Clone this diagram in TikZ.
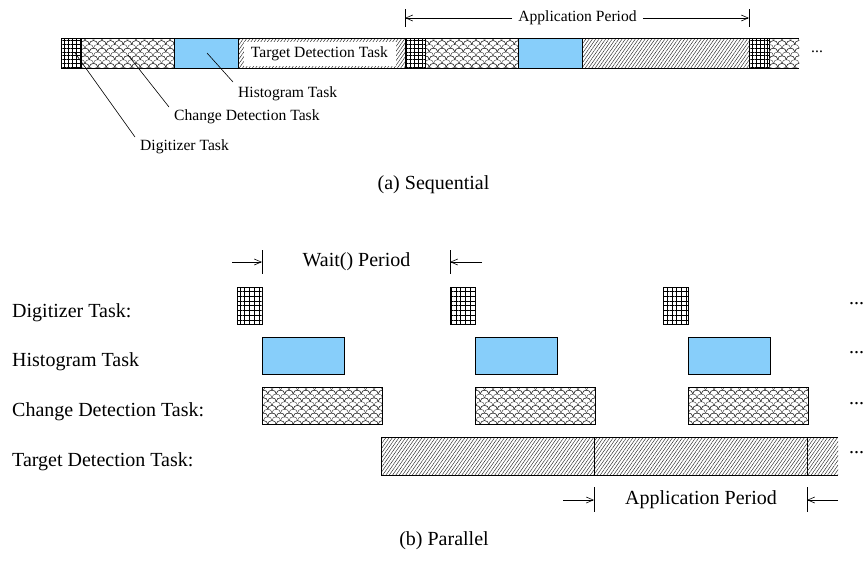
\documentclass[tikz,border=0pt]{standalone}
\usepackage{fontspec}
\setmainfont{Liberation Serif}
\usetikzlibrary{patterns,patterns.meta,arrows.meta}

\pgfdeclarepatternformonly{fishscale}{\pgfqpoint{-4.5pt}{-0.5pt}}{\pgfqpoint{13pt}{8.5pt}}{\pgfqpoint{8.5pt}{7.6pt}}{%
  \pgfsetlinewidth{0.4pt}%
  \pgfpathmoveto{\pgfqpoint{0pt}{0pt}}%
  \pgfpathcurveto{\pgfqpoint{0pt}{5.07pt}}{\pgfqpoint{8.5pt}{5.07pt}}{\pgfqpoint{8.5pt}{0pt}}%
  \pgfpathmoveto{\pgfqpoint{-4.25pt}{3.8pt}}%
  \pgfpathcurveto{\pgfqpoint{-4.25pt}{8.87pt}}{\pgfqpoint{4.25pt}{8.87pt}}{\pgfqpoint{4.25pt}{3.8pt}}%
  \pgfpathcurveto{\pgfqpoint{4.25pt}{8.87pt}}{\pgfqpoint{12.75pt}{8.87pt}}{\pgfqpoint{12.75pt}{3.8pt}}%
  \pgfusepath{stroke}%
}

\definecolor{histblue}{RGB}{135,206,250}

\tikzset{
  small/.style={font=\fontsize{15.6}{18}\selectfont, inner sep=0pt},
  big/.style={font=\fontsize{20}{24}\selectfont, inner sep=0pt},
  blk/.style={draw, line width=0.8pt, inner sep=0pt, anchor=north west},
  nodraw/.style={inner sep=0pt, anchor=north west},
  gridsmall/.style={pattern={Hatch[angle=0,distance=3.8pt,line width=0.6pt]}},
  gridbig/.style={pattern={Hatch[angle=0,distance=4.8pt,line width=0.8pt]}},
  scales/.style={pattern=fishscale, pattern color=black!80},
  hatch/.style={pattern={Lines[angle=55,distance=2.7pt,line width=0.45pt]}, pattern color=black!85},
  blue/.style={fill=histblue},
  topbar/.style={minimum height=30pt},
  row/.style={minimum height=37pt},
  tick/.style={line width=0.6pt},
  arr/.style={line width=0.6pt, -{Straight Barb[length=7pt,width=6pt]}},
  leader/.style={line width=0.6pt},
}

\begin{document}
\begin{tikzpicture}[x=1pt, y=-1pt]
\useasboundingbox (0,0) rectangle (866,565);

% ---------------- (a) Sequential ----------------
\node[blk, gridsmall, topbar, minimum width=20pt] (d1) at (61,38) {};
\node[blk, scales, topbar, minimum width=93pt] (c1) at (81,38) {};
\node[blk, blue, topbar, minimum width=64pt] (h1) at (174,38) {};
\node[blk, hatch, topbar, minimum width=167pt] (t1) at (238,38) {};
\node[blk, gridsmall, topbar, minimum width=20pt] (d2) at (405,38) {};
\node[blk, scales, topbar, minimum width=93pt] (c2) at (425,38) {};
\node[blk, blue, topbar, minimum width=64pt] (h2) at (518,38) {};
\node[blk, hatch, topbar, minimum width=167pt] (t2) at (582,38) {};
\node[blk, gridsmall, topbar, minimum width=20pt] (d3) at (749,38) {};
\node[nodraw, scales, topbar, minimum width=30pt] (c3) at (769,38) {};
\draw[line width=0.8pt] (c3.north west) -- (c3.north east);
\draw[line width=0.8pt] (c3.south west) -- (c3.south east);

\node[small, fill=white, minimum width=152pt, minimum height=24pt] (ttext) at (319.5,53.5) {Target Detection Task};
\node[small, anchor=west] (dotsA) at (811,52) {...};

% application period (top)
\coordinate (apL1) at (405,9);
\coordinate (apL2) at (405,27);
\coordinate (apR1) at (749,9);
\coordinate (apR2) at (749,27);
\draw[tick] (apL1) -- (apL2);
\draw[tick] (apR1) -- (apR2);
\node[small] (apTop) at (577.5,18) {Application Period};
\coordinate (apLa) at (405,18);
\coordinate (apRa) at (749,18);
\draw[arr] ([xshift=-6pt]apTop.west) -- (apLa);
\draw[arr] ([xshift=6pt]apTop.east) -- (apRa);

% labels with leaders
\node[small, anchor=west] (lh) at (238,93.5) {Histogram Task};
\node[small, anchor=west] (lc) at (174,117) {Change Detection Task};
\node[small, anchor=west] (ld) at (140,147) {Digitizer Task};
\coordinate (ph1) at (207,53);
\coordinate (ph2) at (233,82);
\coordinate (pc1) at (128,55);
\coordinate (pc2) at (169,107);
\coordinate (pd1) at (75,53);
\coordinate (pd2) at (135,137);
\draw[leader] (ph1) -- (ph2);
\draw[leader] (pc1) -- (pc2);
\draw[leader] (pd1) -- (pd2);

\node[big] (capA) at (433.5,185) {(a) Sequential};

% ---------------- (b) Parallel ----------------
\node[big, anchor=west] (rD) at (12,313) {Digitizer Task:};
\node[big, anchor=west] (rH) at (12,361.5) {Histogram Task};
\node[big, anchor=west] (rC) at (12,412) {Change Detection Task:};
\node[big, anchor=west] (rT) at (12,462) {Target Detection Task:};

\node[blk, gridbig, row, minimum width=25pt] (D1) at (237,287) {};
\node[blk, gridbig, row, minimum width=25pt] (D2) at (450,287) {};
\node[blk, gridbig, row, minimum width=25pt] (D3) at (663,287) {};

\node[blk, blue, row, minimum width=82pt] (H1) at (262,337) {};
\node[blk, blue, row, minimum width=82pt] (H2) at (475,337) {};
\node[blk, blue, row, minimum width=82pt] (H3) at (688,337) {};

\node[blk, scales, row, minimum width=120pt] (C1) at (262,387) {};
\node[blk, scales, row, minimum width=120pt] (C2) at (475,387) {};
\node[blk, scales, row, minimum width=120pt] (C3) at (688,387) {};

\node[blk, hatch, minimum height=38pt, minimum width=213pt] (T1) at (381,437) {};
\node[blk, hatch, minimum height=38pt, minimum width=213pt] (T2) at (594,437) {};
\node[nodraw, hatch, minimum height=38pt, minimum width=31pt] (T3) at (807,437) {};
\draw[line width=0.8pt] (T3.north west) -- (T3.north east);
\draw[line width=0.8pt] (T3.south west) -- (T3.south east);

\node[big, anchor=west] (eD) at (849,304) {...};
\node[big, anchor=west] (eH) at (849,353) {...};
\node[big, anchor=west] (eC) at (849,404) {...};
\node[big, anchor=west] (eT) at (849,453) {...};

% Wait() period
\node[big] (wait) at (356.5,262) {Wait() Period};
\coordinate (wL1) at (262,250);
\coordinate (wL2) at (262,274);
\coordinate (wR1) at (450,250);
\coordinate (wR2) at (450,274);
\draw[tick] (wL1) -- (wL2);
\draw[tick] (wR1) -- (wR2);
\coordinate (wLs) at (232,262);
\coordinate (wLe) at (262,262);
\coordinate (wRs) at (482,262);
\coordinate (wRe) at (450,262);
\draw[arr] (wLs) -- (wLe);
\draw[arr] (wRs) -- (wRe);

% Application period (bottom)
\node[big] (apBot) at (701,500) {Application Period};
\coordinate (bL1) at (594,487);
\coordinate (bL2) at (594,512);
\coordinate (bR1) at (807,487);
\coordinate (bR2) at (807,512);
\draw[tick] (bL1) -- (bL2);
\draw[tick] (bR1) -- (bR2);
\coordinate (bLs) at (563,500);
\coordinate (bLe) at (594,500);
\coordinate (bRs) at (838,500);
\coordinate (bRe) at (807,500);
\draw[arr] (bLs) -- (bLe);
\draw[arr] (bRs) -- (bRe);

\node[big] (capB) at (444,541) {(b) Parallel};
\end{tikzpicture}
\end{document}
